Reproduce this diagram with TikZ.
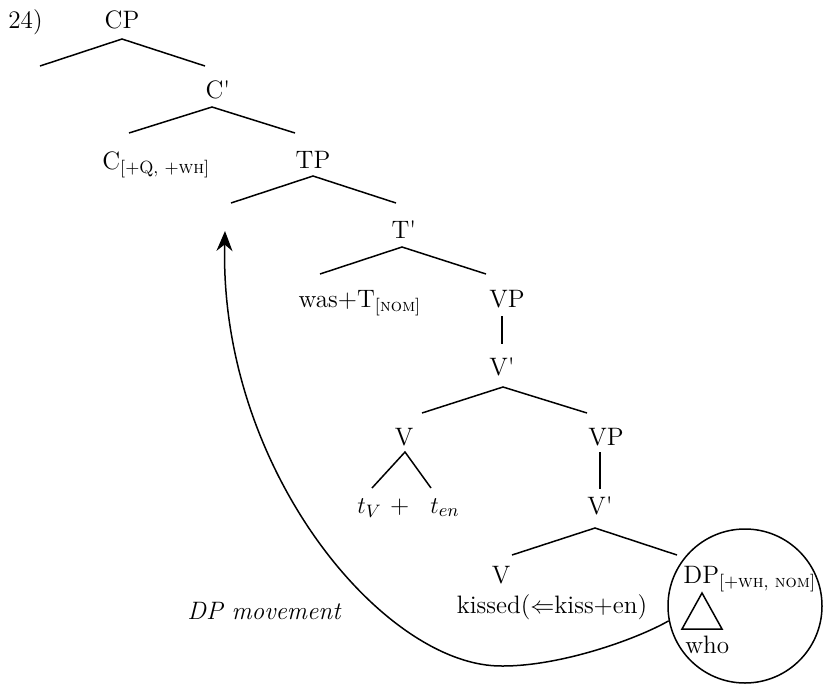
\documentclass[tikz,border=0pt]{standalone}
\usepackage{amsmath,amssymb}
\usetikzlibrary{arrows.meta,positioning,calc}
\newcommand{\synfont}{\fontsize{12.6}{15}\selectfont}
\newcommand{\synbar}{\textquotesingle}
\tikzset{
  synlabel/.style={inner sep=0pt, anchor=base, font=\synfont},
  synlabelw/.style={synlabel, anchor=base west},
  synnote/.style={synlabelw, font=\synfont\itshape},
  synbranch/.style={line width=0.75pt},
  synmove/.style={-{Stealth[length=10pt,width=8pt]}, line width=0.75pt},
  syncircle/.style={circle, draw, line width=0.75pt, minimum size=77pt, inner sep=0pt}
}

\begin{document}
\begin{tikzpicture}[x=0.5pt,y=-0.5pt]
  \useasboundingbox (0,0) rectangle (824,686);

  % labels
  \node[synlabelw] (num) at (8,28) {24)};
  \node[synlabel] (cp) at (122,28) {CP};
  \node[synlabel] (cbar) at (218,98) {C\synbar};
  \node[synlabelw] (c) at (102,169) {C\textsubscript{[+Q, +\textsc{wh}]}};
  \node[synlabel] (tp) at (313,168) {TP};
  \node[synlabel] (tbar) at (404,238) {T\synbar};
  \node[synlabel] (t) at (360,307) {was+T\textsubscript{[\textsc{nom}]}};
  \node[synlabel] (vp) at (507,307) {VP};
  \node[synlabel] (vbar) at (502,375) {V\synbar};
  \node[synlabel] (v) at (404,445) {V};
  \node[synlabel] (vpb) at (606,445) {VP};
  \node[synlabelw] (tv) at (357,513) {$t_V$ +};
  \node[synlabelw] (ten) at (430,513) {$t_{en}$};
  \node[synlabel] (vbarb) at (600,514) {V\synbar};
  \node[synlabel] (vb) at (501,583) {V};
  \node[synlabel] (kissed) at (552,613) {kissed($\Leftarrow$kiss+en)};
  \node[synlabelw] (dp) at (683,583) {DP\textsubscript{[+\textsc{wh}, \textsc{nom}]}};
  \node[synlabelw] (who) at (685,653) {who};
  \node[synnote] (move) at (187,619) {DP movement};
  \node[syncircle] (dpcircle) at (745,606) {};

  % branch points
  \coordinate (cp-top) at (122,39);   \coordinate (cp-l) at (40,66);    \coordinate (cp-r) at (205,66);
  \coordinate (cbar-top) at (212,107); \coordinate (cbar-l) at (129,133); \coordinate (cbar-r) at (295,133);
  \coordinate (tp-top) at (313,176);  \coordinate (tp-l) at (231,203);  \coordinate (tp-r) at (396,203);
  \coordinate (tbar-top) at (402,247); \coordinate (tbar-l) at (320,274); \coordinate (tbar-r) at (486,274);
  \coordinate (vp-top) at (502,316);  \coordinate (vp-bot) at (502,344);
  \coordinate (vbar-top) at (503,387); \coordinate (vbar-l) at (422,413); \coordinate (vbar-r) at (587,413);
  \coordinate (v-top) at (405,452);   \coordinate (v-l) at (372,488);   \coordinate (v-r) at (431,488);
  \coordinate (vpb-top) at (600,452); \coordinate (vpb-bot) at (600,489);
  \coordinate (vbarb-top) at (595,528); \coordinate (vbarb-l) at (512,555); \coordinate (vbarb-r) at (677,555);
  \coordinate (spec) at (225,231);
  \coordinate (move-low) at (503,666);

  % branches
  \draw[synbranch] (cp-l) -- (cp-top) -- (cp-r);
  \draw[synbranch] (cbar-l) -- (cbar-top) -- (cbar-r);
  \draw[synbranch] (tp-l) -- (tp-top) -- (tp-r);
  \draw[synbranch] (tbar-l) -- (tbar-top) -- (tbar-r);
  \draw[synbranch] (vp-top) -- (vp-bot);
  \draw[synbranch] (vbar-l) -- (vbar-top) -- (vbar-r);
  \draw[synbranch] (v-l) -- (v-top) -- (v-r);
  \draw[synbranch] (vpb-top) -- (vpb-bot);
  \draw[synbranch] (vbarb-l) -- (vbarb-top) -- (vbarb-r);

  % triangle under DP
  \coordinate (tri-top) at (702,593); \coordinate (tri-l) at (682,629); \coordinate (tri-r) at (722,629);
  \draw[synbranch] (tri-top) -- (tri-l) -- (tri-r) -- cycle;

  % movement arrow
  \draw[synmove] (dpcircle.191) .. controls (635,640) and (560,666) .. (move-low)
    .. controls (385,668) and (219,470) .. (spec);
\end{tikzpicture}
\end{document}
